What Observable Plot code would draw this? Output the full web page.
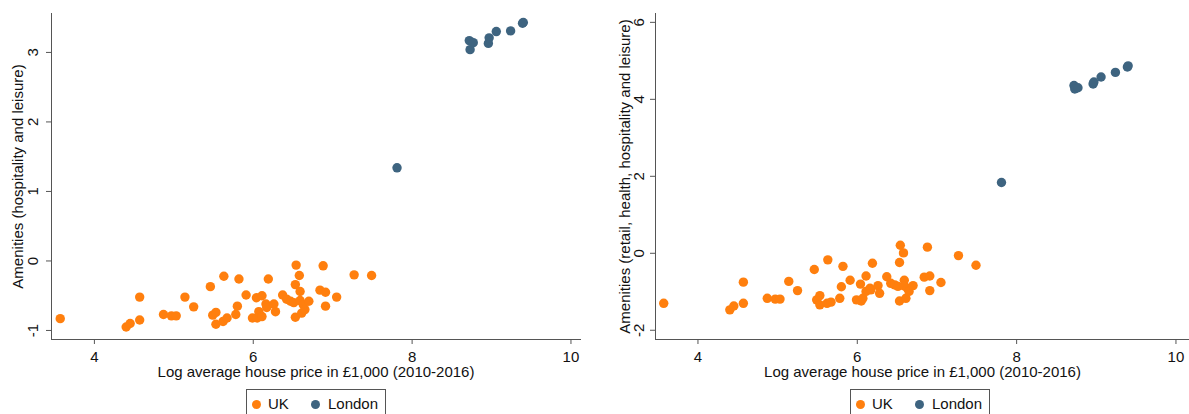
<!DOCTYPE html>
<html>
<head>
<meta charset="utf-8">
<script src="https://cdn.jsdelivr.net/npm/d3@7"></script>
<script src="https://cdn.jsdelivr.net/npm/@observablehq/plot@0.6"></script>
<style>
  html, body { margin: 0; padding: 0; background: #fff; overflow: hidden; }
  #wrap { position: relative; width: 1189px; height: 414px; font-family: "Liberation Sans", Arial, sans-serif; }
  .panel { position: absolute; top: 0; }
  .legend { position: absolute; top: 389px; width: 140px; height: 32px; border: 1px solid #555; box-sizing: border-box; font-size: 15px; color: #111; }
  .legend .dot { position: absolute; top: 9.5px; width: 9px; height: 9px; border-radius: 50%; }
  .legend .lab { position: absolute; top: 5px; line-height: 18px; }
</style>
</head>
<body>
<div id="wrap"></div>
<script>
// Log average house price (£1,000, 2010-2016) by area
const ukPrice = [3.57, 4.40, 4.45, 4.57, 4.57, 4.87, 4.97, 5.03, 5.14, 5.25,
  5.46, 5.49, 5.53, 5.53, 5.62, 5.63, 5.67, 5.78, 5.80, 5.82,
  5.91, 5.99, 6.04, 6.05, 6.07, 6.11, 6.11, 6.16, 6.17, 6.19,
  6.26, 6.28, 6.37, 6.42, 6.47, 6.51, 6.53, 6.53, 6.54, 6.58,
  6.59, 6.59, 6.61, 6.63, 6.65, 6.70, 6.84, 6.88, 6.91, 6.91,
  7.05, 7.27, 7.49];
// Amenities: hospitality and leisure
const ukHospitality = [-0.83, -0.95, -0.90, -0.52, -0.85, -0.77, -0.79, -0.79, -0.52, -0.66,
  -0.37, -0.78, -0.74, -0.91, -0.87, -0.22, -0.82, -0.77, -0.65, -0.26,
  -0.49, -0.82, -0.53, -0.82, -0.73, -0.50, -0.80, -0.62, -0.67, -0.26,
  -0.62, -0.73, -0.49, -0.55, -0.58, -0.60, -0.34, -0.81, -0.06, -0.21,
  -0.44, -0.57, -0.75, -0.63, -0.70, -0.58, -0.42, -0.07, -0.45, -0.65,
  -0.52, -0.20, -0.21];
// Amenities: retail, health, hospitality and leisure
const ukAllAmenities = [-1.30, -1.47, -1.37, -0.75, -1.30, -1.17, -1.19, -1.19, -0.73, -0.97,
  -0.42, -1.21, -1.10, -1.34, -1.30, -0.17, -1.27, -1.17, -0.87, -0.34,
  -0.70, -1.21, -0.80, -1.24, -1.17, -0.59, -0.99, -0.91, -0.95, -0.26,
  -0.84, -1.04, -0.61, -0.78, -0.82, -0.86, -0.24, -1.24, 0.21, 0.01,
  -0.70, -0.85, -1.17, -0.91, -0.99, -0.84, -0.62, 0.16, -0.59, -0.97,
  -0.76, -0.06, -0.31];

const londonPrice = [7.81, 8.72, 8.73, 8.77, 8.96, 8.97, 9.06, 9.24, 9.39, 9.40];
const londonHospitality = [1.34, 3.17, 3.04, 3.14, 3.13, 3.21, 3.30, 3.31, 3.42, 3.43];
const londonAllAmenities = [1.84, 4.36, 4.27, 4.30, 4.40, 4.45, 4.58, 4.70, 4.84, 4.87];

const xTicks = [4, 6, 8, 10];
const leftYTicks = [-1, 0, 1, 2, 3];
const rightYTicks = [-2, 0, 2, 4, 6];
const groups = ["UK", "London"];
const groupColors = ["#ff7f0e", "#3e6480"];
const xTitle = "Log average house price in £1,000 (2010-2016)";
const leftYTitle = "Amenities (hospitality and leisure)";
const rightYTitle = "Amenities (retail, health, hospitality and leisure)";

const axisColor = "#555";
const textColor = "#111";
const H = 385;
const plain = d => String(d);

function rows(xs, ys, group) {
  return xs.map((x, i) => ({x, y: ys[i], group}));
}

function panel({width, marginLeft, marginRight, xDomain, yDomain, yTicks, uk, london, yTitle, yTitleDx, yTickPad}) {
  return Plot.plot({
    width, height: H,
    marginLeft, marginRight, marginTop: 13, marginBottom: 46,
    style: {fontFamily: "'Liberation Sans', Arial, sans-serif", fontSize: "15px", color: textColor, background: "white"},
    x: {domain: xDomain},
    y: {domain: yDomain},
    color: {domain: groups, range: groupColors},
    marks: [
      Plot.frame({anchor: "left", stroke: axisColor}),
      Plot.frame({anchor: "bottom", stroke: axisColor}),
      Plot.axisX({ticks: xTicks, tickFormat: plain, tickSize: 5, tickPadding: 7, stroke: axisColor, label: null, fill: textColor}),
      Plot.axisY({ticks: yTicks, tickFormat: plain, tickSize: 5, tickRotate: -90, textAnchor: "middle", lineAnchor: "middle",
        tickPadding: yTickPad, stroke: axisColor, label: null, fill: textColor}),
      Plot.dot(uk, {x: "x", y: "y", r: 4.7, fill: "group", stroke: null}),
      Plot.dot(london, {x: "x", y: "y", r: 4.7, fill: "group", stroke: null}),
      Plot.text([xTitle], {frameAnchor: "bottom", text: d => d, dy: 33, textAnchor: "middle", lineAnchor: "middle", fill: textColor}),
      Plot.text([yTitle], {frameAnchor: "left", text: d => d, rotate: -90, dx: yTitleDx, textAnchor: "middle", lineAnchor: "middle", fill: textColor})
    ]
  });
}

function legend(left) {
  const box = document.createElement("div");
  box.className = "legend";
  box.style.left = left + "px";
  const items = [[4.5, 21], [63.5, 81]];
  groups.forEach((g, i) => {
    const dot = document.createElement("span");
    dot.className = "dot";
    dot.style.left = items[i][0] + "px";
    dot.style.background = groupColors[i];
    const lab = document.createElement("span");
    lab.className = "lab";
    lab.style.left = items[i][1] + "px";
    lab.textContent = g;
    box.append(dot, lab);
  });
  return box;
}

const wrap = document.getElementById("wrap");

const left = panel({
  width: 594, marginLeft: 51, marginRight: 14,
  xDomain: [3.46, 10.12], yDomain: [-1.13, 3.56], yTicks: leftYTicks,
  uk: rows(ukPrice, ukHospitality, "UK"),
  london: rows(londonPrice, londonHospitality, "London"),
  yTitle: leftYTitle, yTitleDx: -33, yTickPad: 13
});
const right = panel({
  width: 595, marginLeft: 61, marginRight: 0,
  xDomain: [3.467, 10.17], yDomain: [-2.24, 6.23], yTicks: rightYTicks,
  uk: rows(ukPrice, ukAllAmenities, "UK"),
  london: rows(londonPrice, londonAllAmenities, "London"),
  yTitle: rightYTitle, yTitleDx: -30, yTickPad: 11
});

const lp = document.createElement("div");
lp.className = "panel"; lp.style.left = "0px"; lp.append(left);
const rp = document.createElement("div");
rp.className = "panel"; rp.style.left = "594px"; rp.append(right);
wrap.append(lp, rp, legend(246), legend(850));
</script>
</body>
</html>
